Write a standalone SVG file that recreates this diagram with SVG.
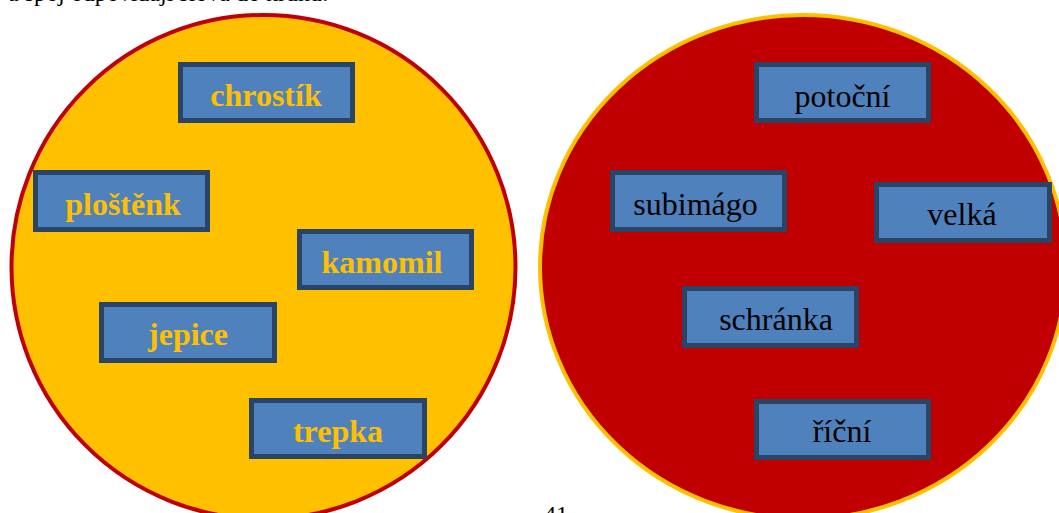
<svg xmlns="http://www.w3.org/2000/svg" width="1059" height="513" viewBox="0 0 1059 513">
<style>
.box rect{fill:#4F81BD;stroke:#2A4466;stroke-width:5}
text{font-family:'Liberation Serif','Times New Roman',serif}
.yl text{font-weight:bold;font-size:32px;fill:#FFC000;text-anchor:middle}
.rd text{font-size:32px;fill:#000;text-anchor:middle}
</style>
<rect width="1059" height="513" fill="#fff"/>
<text x="8" y="1" font-size="24" fill="#000">a spoj odpovídají slova do kruhů:</text>
<ellipse id="ellipse-left" cx="263.5" cy="267" rx="252" ry="252" fill="#FFC000" stroke="#C00000" stroke-width="4"/>
<ellipse id="ellipse-right" cx="803" cy="267" rx="263" ry="252" fill="#C00000" stroke="#FFC000" stroke-width="4"/>
<g class="box yl">
<g id="chrostik"><rect x="180.5" y="64.5" width="172" height="56"/><text x="266" y="106">chrostík</text></g>
<g id="plostenk"><rect x="35.5" y="172.5" width="172" height="57"/><text x="123" y="215">ploštěnk</text></g>
<g id="kamomil"><rect x="299.5" y="231.5" width="172" height="56"/><text x="382" y="273">kamomil</text></g>
<g id="jepice"><rect x="101.5" y="304.5" width="173" height="56"/><text x="188" y="345">jepice</text></g>
<g id="trepka"><rect x="251.5" y="400.5" width="173" height="56"/><text x="338" y="442">trepka</text></g>
</g>
<g class="box rd">
<g id="potocni"><rect x="756.5" y="64.5" width="172" height="56"/><text x="842.5" y="107">potoční</text></g>
<g id="subimago"><rect x="612.5" y="172.5" width="172" height="57"/><text x="695.5" y="215">subimágo</text></g>
<g id="velka"><rect x="876.5" y="184.5" width="173" height="56"/><text x="962" y="225">velká</text></g>
<g id="schranka"><rect x="684.5" y="288.5" width="172" height="57"/><text x="776" y="330">schránka</text></g>
<g id="ricni"><rect x="756.5" y="401.5" width="172" height="56"/><text x="842" y="442">říční</text></g>
</g>
<text x="556" y="522" font-size="24" text-anchor="middle" fill="#000">41</text>
</svg>
